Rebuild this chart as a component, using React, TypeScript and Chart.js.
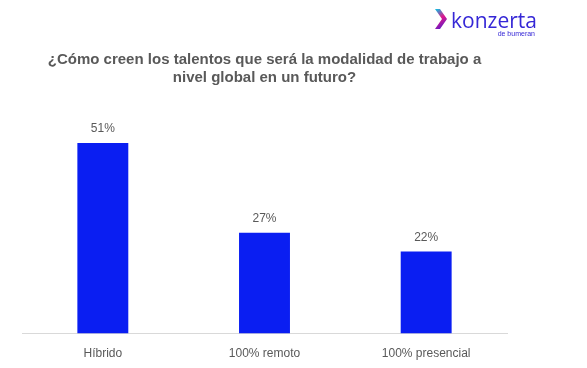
import React, { useEffect, useRef } from "react";
import { Chart, registerables } from "chart.js";

Chart.register(...registerables);

const categories = ["Híbrido", "100% remoto", "100% presencial"];
const values = [51, 27, 22];
const titleLines = ["¿Cómo creen los talentos que será la modalidad de trabajo a", "nivel global en un futuro?"];

const barLabels = {
  id: "barLabels",
  afterDatasetsDraw(chart: any) {
    const ctx = chart.ctx;
    const meta = chart.getDatasetMeta(0);
    ctx.save();
    ctx.font = "12px 'Liberation Sans', Arial, sans-serif";
    ctx.fillStyle = "#595959";
    ctx.textAlign = "center";
    ctx.textBaseline = "bottom";
    meta.data.forEach((bar: any, i: number) => {
      ctx.fillText(values[i] + "%", bar.x, bar.y - 8);
    });
    ctx.restore();
  },
};

const logo = {
  id: "logo",
  afterDraw(chart: any) {
    const ctx = chart.ctx;
    ctx.save();
    const grad = ctx.createLinearGradient(435, 9, 447, 29);
    grad.addColorStop(0, "#00c8e6");
    grad.addColorStop(0.45, "#e0168c");
    grad.addColorStop(1, "#3a1cd8");
    ctx.fillStyle = grad;
    ctx.beginPath();
    ctx.moveTo(435, 9);
    ctx.lineTo(440, 9);
    ctx.lineTo(447, 19);
    ctx.lineTo(440, 29);
    ctx.lineTo(435, 29);
    ctx.lineTo(442, 19);
    ctx.closePath();
    ctx.fill();
    ctx.fillStyle = "#3527d6";
    ctx.font = "21px 'Open Sans', 'Liberation Sans', sans-serif";
    ctx.textBaseline = "alphabetic";
    ctx.textAlign = "left";
    ctx.fillText("konzerta", 451, 28);
    ctx.font = "7px 'Liberation Sans', sans-serif";
    ctx.textAlign = "right";
    ctx.fillText("de bumeran", 535, 36);
    ctx.restore();
  },
};

export default function App() {
  const ref = useRef<HTMLCanvasElement>(null);
  useEffect(() => {
    if (!ref.current) return;
    const chart = new Chart(ref.current, {
      type: "bar",
      data: {
        labels: categories,
        datasets: [
          {
            data: values,
            backgroundColor: "#0A1EF2",
            categoryPercentage: 1,
            barPercentage: 0.315,
          },
        ],
      },
      options: {
        animation: false,
        responsive: false,
        maintainAspectRatio: false,
        layout: { padding: { left: 22, right: 80, top: 50, bottom: -6 } },
        plugins: {
          legend: { display: false },
          tooltip: { enabled: false },
          title: {
            display: true,
            text: titleLines,
            color: "#595959",
            font: { size: 15, weight: "bold", family: "'Liberation Sans', Arial, sans-serif", lineHeight: 1.25 },
            padding: { top: 0, bottom: 22 },
          },
        },
        scales: {
          x: {
            grid: { display: false, drawTicks: false, tickLength: 0 },
            border: { display: true, color: "#d9d9d9", width: 1 },
            ticks: {
              color: "#595959",
              padding: 13,
              font: { size: 12, family: "'Liberation Sans', Arial, sans-serif" },
            },
          },
          y: {
            display: false,
            min: 0,
            max: 60,
          },
        },
      },
      plugins: [barLabels, logo],
    });
    return () => chart.destroy();
  }, []);
  return (
    <div style={{ position: "fixed", left: 0, top: 0, width: 587, height: 368, background: "#fff" }}>
      <canvas ref={ref} width={587} height={368} />
    </div>
  );
}
